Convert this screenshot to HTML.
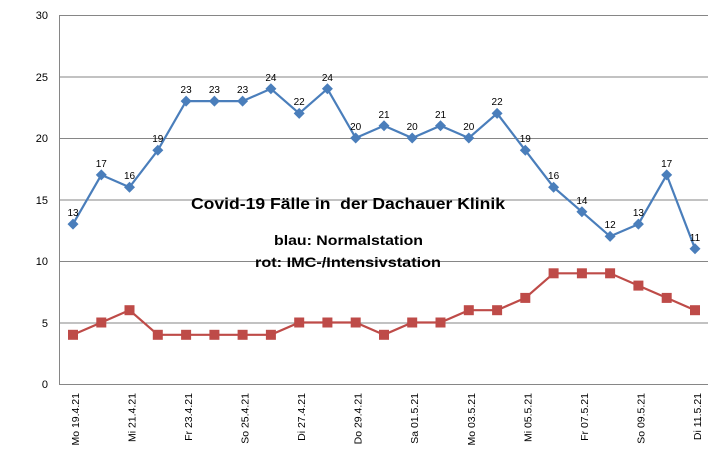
<!DOCTYPE html>
<html><head><meta charset="utf-8"><style>body{margin:0;background:#fff}svg{display:block;font-family:"Liberation Sans",sans-serif}</style></head><body>
<svg width="708" height="462" viewBox="0 0 708 462" xmlns="http://www.w3.org/2000/svg">
<defs>
<marker id="mb" markerUnits="userSpaceOnUse" markerWidth="14" markerHeight="14" refX="7" refY="7"><path d="M7,1.5L12.5,7L7,12.5L1.5,7Z" fill="#4a7ebb"/></marker>
<marker id="mr" markerUnits="userSpaceOnUse" markerWidth="12" markerHeight="12" refX="6" refY="6"><rect x="1" y="1" width="10" height="10" fill="#be4b48"/></marker>
</defs>
<g stroke="#868686" stroke-width="1">
<line x1="59.5" y1="15.5" x2="708" y2="15.5"/>
<line x1="59.5" y1="77" x2="708" y2="77"/>
<line x1="59.5" y1="138.5" x2="708" y2="138.5"/>
<line x1="59.5" y1="200" x2="708" y2="200"/>
<line x1="59.5" y1="261.5" x2="708" y2="261.5"/>
<line x1="59.5" y1="323" x2="708" y2="323"/>
<line x1="59.5" y1="384.5" x2="708" y2="384.5"/>
<line x1="59.5" y1="15" x2="59.5" y2="385"/>
</g>
<g font-size="11" text-anchor="end" fill="#000">
<text x="48" y="19">30</text><text x="48" y="81">25</text><text x="48" y="142">20</text><text x="48" y="204">15</text><text x="48" y="265">10</text><text x="48" y="327">5</text><text x="48" y="388">0</text>
</g>
<path d="M73,334.8L101.3,322.5L129.5,310.2L157.8,334.8L186.1,334.8L214.4,334.8L242.6,334.8L270.9,334.8L299.2,322.5L327.4,322.5L355.7,322.5L384,334.8L412.2,322.5L440.5,322.5L468.8,310.2L497.1,310.2L525.3,297.9L553.6,273.3L581.9,273.3L610.1,273.3L638.4,285.6L666.7,297.9L695,310.2" fill="none" stroke="#be4b48" stroke-width="2.2" marker-start="url(#mr)" marker-mid="url(#mr)" marker-end="url(#mr)"/>
<path d="M73,224.1L101.3,174.9L129.5,187.2L157.8,150.3L186.1,101.1L214.4,101.1L242.6,101.1L270.9,88.8L299.2,113.4L327.4,88.8L355.7,138L384,125.7L412.2,138L440.5,125.7L468.8,138L497.1,113.4L525.3,150.3L553.6,187.2L581.9,211.8L610.1,236.4L638.4,224.1L666.7,174.9L695,248.7" fill="none" stroke="#4a7ebb" stroke-width="2.2" marker-start="url(#mb)" marker-mid="url(#mb)" marker-end="url(#mb)"/>
<g font-size="10" text-anchor="middle" fill="#000">
<text x="73" y="216">13</text><text x="101.3" y="167">17</text><text x="129.5" y="179">16</text><text x="157.8" y="142">19</text><text x="186.1" y="93">23</text><text x="214.4" y="93">23</text><text x="242.6" y="93">23</text><text x="270.9" y="81">24</text><text x="299.2" y="105">22</text><text x="327.4" y="81">24</text><text x="355.7" y="130">20</text><text x="384" y="118">21</text><text x="412.2" y="130">20</text><text x="440.5" y="118">21</text><text x="468.8" y="130">20</text><text x="497.1" y="105">22</text><text x="525.3" y="142">19</text><text x="553.6" y="179">16</text><text x="581.9" y="204">14</text><text x="610.1" y="228">12</text><text x="638.4" y="216">13</text><text x="666.7" y="167">17</text><text x="695" y="241">11</text>
</g>
<g font-size="10.5" text-anchor="end" fill="#000">
<text transform="translate(79,393) rotate(-90)">Mo 19.4.21</text>
<text transform="translate(135.5,393) rotate(-90)">Mi 21.4.21</text>
<text transform="translate(192.1,393) rotate(-90)">Fr 23.4.21</text>
<text transform="translate(248.6,393) rotate(-90)">So 25.4.21</text>
<text transform="translate(305.2,393) rotate(-90)">Di 27.4.21</text>
<text transform="translate(361.7,393) rotate(-90)">Do 29.4.21</text>
<text transform="translate(418.2,393) rotate(-90)">Sa 01.5.21</text>
<text transform="translate(474.8,393) rotate(-90)">Mo 03.5.21</text>
<text transform="translate(531.3,393) rotate(-90)">Mi 05.5.21</text>
<text transform="translate(587.9,393) rotate(-90)">Fr 07.5.21</text>
<text transform="translate(644.4,393) rotate(-90)">So 09.5.21</text>
<text transform="translate(701,393) rotate(-90)">Di 11.5.21</text>
</g>
<text x="191" y="209" font-size="16" font-weight="bold" textLength="314" lengthAdjust="spacingAndGlyphs" xml:space="preserve">Covid-19 Fälle in  der Dachauer Klinik</text>
<text x="274" y="245" font-size="14" font-weight="bold" textLength="149" lengthAdjust="spacingAndGlyphs">blau: Normalstation</text>
<text x="255" y="267" font-size="14" font-weight="bold" textLength="186" lengthAdjust="spacingAndGlyphs">rot: IMC-/Intensivstation</text>
</svg>
</body></html>
